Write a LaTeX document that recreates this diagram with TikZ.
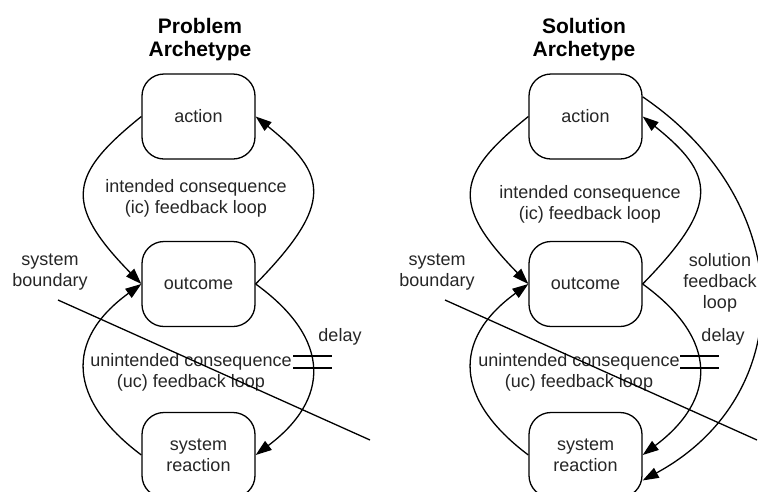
\documentclass[tikz,border=0pt]{standalone}
\usepackage{fontspec}
\setmainfont{Liberation Sans}
\usetikzlibrary{arrows.meta}
\begin{document}
\begin{tikzpicture}[x=1pt,y=-1pt,
  every node/.style={text=black!85, font=\fontsize{18}{21}\selectfont, align=center, inner sep=0pt},
  stage/.style={draw=black, fill=white, line width=1.3pt, rounded corners=22pt,
                minimum width=113pt, minimum height=85pt},
  heading/.style={font=\fontsize{21}{23}\selectfont\bfseries, text=black},
  link/.style={line width=1.3pt, -{Triangle[length=16pt,width=11pt]}},
  plain/.style={line width=1.3pt}]
\useasboundingbox (0,0) rectangle (758,491);
\clip (0,0) rectangle (758,491);

% ---------- Problem archetype ----------
\node[heading] (t1) at (200,40) {Problem\\Archetype};
\node[stage] (a1) at (198.5,116.5) {action};
\node[stage] (o1) at (198.5,284) {outcome};
\node[stage] (r1) at (198.5,455) {system\\reaction};
\node (ic1) at (196,198.5) {intended consequence\\(ic) feedback loop};
\node (uc1) at (191,372.5) {unintended consequence\\(uc) feedback loop};
\node (sb1) at (50,272) {system\\boundary};
\node (dl1) at (340,337) {delay};

\draw[link] (a1.west) .. controls (70,174) and (62,203) .. (o1.west);
\draw[link] (o1.east) .. controls (335,203) and (327,174) .. (a1.east);
\draw[link] (o1.east) .. controls (333,340) and (329,400) .. (r1.east);
\draw[link] (r1.west) .. controls (68,400) and (64,340) .. (o1.west);

% delay marks
\coordinate (d1a) at (293,356); \coordinate (d1b) at (332,356);
\coordinate (d1c) at (293,368); \coordinate (d1d) at (332,368);
\draw[plain] (d1a) -- (d1b);
\draw[plain] (d1c) -- (d1d);

% system boundary
\coordinate (b1s) at (58,300); \coordinate (b1e) at (370,440);
\draw[plain] (b1s) -- (b1e);

% ---------- Solution archetype ----------
\node[heading] (t2) at (584,40) {Solution\\Archetype};
\node[stage] (a2) at (585.5,116.5) {action};
\node[stage] (o2) at (585.5,284) {outcome};
\node[stage] (r2) at (585.5,455) {system\\reaction};
\node (ic2) at (590,204) {intended consequence\\(ic) feedback loop};
\node (uc2) at (579,372.5) {unintended consequence\\(uc) feedback loop};
\node (sb2) at (437,272) {system\\boundary};
\node (dl2) at (723,337) {delay};
\node (sf2) at (720,283) {solution\\feedback\\loop};

\draw[link] (a2.west) .. controls (457,174) and (449,203) .. (o2.west);
\draw[link] (o2.east) .. controls (722,203) and (714,174) .. (a2.east);
\draw[link] (o2.east) .. controls (720,340) and (716,400) .. (r2.east);
\draw[link] (r2.west) .. controls (455,400) and (451,340) .. (o2.west);
\draw[link] (a2.19) .. controls (799,203) and (800,395) .. (r2.-24);

\coordinate (d2a) at (680,356); \coordinate (d2b) at (719,356);
\coordinate (d2c) at (680,368); \coordinate (d2d) at (719,368);
\draw[plain] (d2a) -- (d2b);
\draw[plain] (d2c) -- (d2d);

\coordinate (b2s) at (445,300); \coordinate (b2e) at (757,440);
\draw[plain] (b2s) -- (b2e);
\end{tikzpicture}
\end{document}
